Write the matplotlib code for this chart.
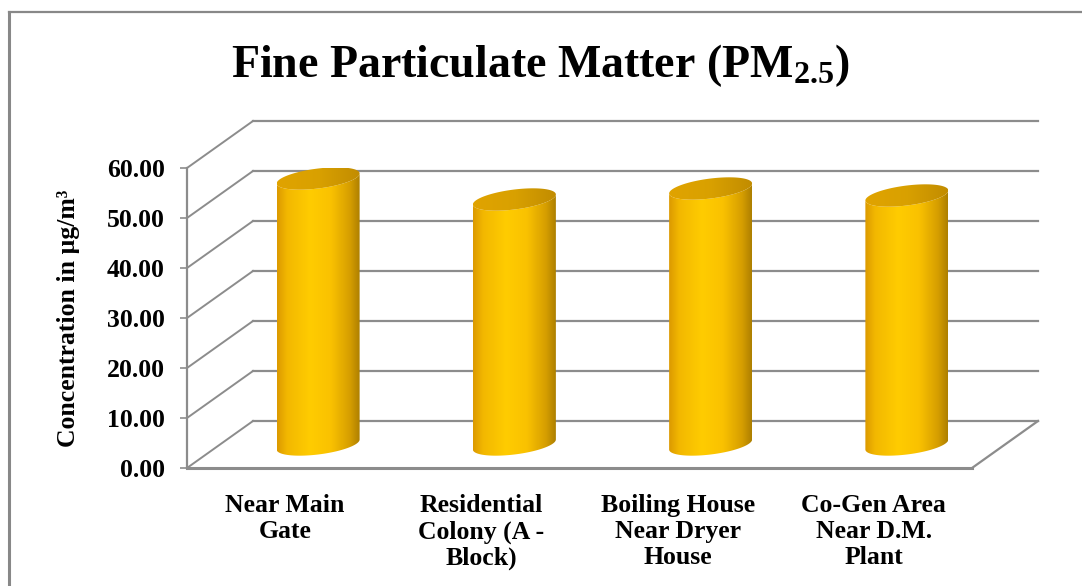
import numpy as np
import matplotlib
matplotlib.use("Agg")
import matplotlib.pyplot as plt
from matplotlib.patches import Polygon
from matplotlib.lines import Line2D
from matplotlib.colors import LinearSegmentedColormap

# ---- data ----
categories = ["Near Main\nGate", "Residential\nColony (A -\nBlock)",
              "Boiling House\nNear Dryer\nHouse", "Co-Gen Area\nNear D.M.\nPlant"]
values = [53.2, 49.0, 51.2, 49.8]
yticks = [0, 10, 20, 30, 40, 50, 60]
title = "Fine Particulate Matter (PM$_{\\mathrm{2.5}}$)"
ylabel = "Concentration in µg/m³"

plt.rcParams['font.family'] = ['Liberation Serif', 'DejaVu Serif']
plt.rcParams['font.weight'] = 'bold'
plt.rcParams['mathtext.fontset'] = 'custom'
plt.rcParams['mathtext.rm'] = 'Liberation Serif:bold'
plt.rcParams['mathtext.bf'] = 'Liberation Serif:bold'
plt.rcParams['mathtext.it'] = 'Liberation Serif:bold:italic'

W, H = 1082, 586
fig = plt.figure(figsize=(W / 100, H / 100), dpi=100)
fig.patch.set_facecolor('white')

# front plane of the 3D box in pixels
x0, x1 = 187, 972
yb, yt = 468, 168
ax = fig.add_axes([x0 / W, 1 - yb / H, (x1 - x0) / W, (yb - yt) / H])
ax.set_facecolor('none')
xmin, xmax = -0.5, len(categories) - 0.5
ymin, ymax = 0, 60
ax.set_xlim(xmin, xmax)
ax.set_ylim(ymin, ymax)

pxx = (x1 - x0) / (xmax - xmin)
pxy = (yb - yt) / (ymax - ymin)
dx = 66 / pxx       # depth offset in data units
dy = 47 / pxy

gcol = '#8c8c8c'
# gridlines: back wall + side wall
for v in yticks:
    ax.add_line(Line2D([xmin + dx, xmax + dx], [v + dy, v + dy], color=gcol, lw=1.6,
                       clip_on=False, zorder=1))
    ax.add_line(Line2D([xmin, xmin + dx], [v, v + dy], color=gcol, lw=1.4,
                       clip_on=False, zorder=1))
# floor
ax.add_line(Line2D([xmin, xmax], [0, 0], color=gcol, lw=2.2, clip_on=False, zorder=1))
ax.add_line(Line2D([xmax, xmax + dx], [0, dy], color=gcol, lw=1.6, clip_on=False, zorder=1))

# cylinders
A = 41.5 / pxx
B = 10 / pxy
C = 5 / pxy
body_cmap = LinearSegmentedColormap.from_list('body', [
    (0.0, (0.86, 0.60, 0.00)),
    (0.12, (0.95, 0.72, 0.00)),
    (0.40, (1.00, 0.80, 0.00)),
    (0.65, (0.98, 0.76, 0.00)),
    (0.88, (0.84, 0.62, 0.00)),
    (1.0, (0.68, 0.50, 0.00))])
cap_cmap = LinearSegmentedColormap.from_list('cap', [
    (0.0, (0.88, 0.64, 0.00)),
    (0.5, (0.85, 0.63, 0.00)),
    (1.0, (0.76, 0.55, 0.00))])

grad = np.linspace(0, 1, 256).reshape(1, -1)
for i, v in enumerate(values):
    xc = i + dx / 2
    base = dy / 2
    top = v + dy / 2
    t_front = np.linspace(np.pi, 2 * np.pi, 80)
    bx = xc + A * np.cos(t_front)
    by_off = B * np.sin(t_front) + C * np.cos(t_front)
    pts = np.vstack([np.column_stack([bx, base + by_off]),
                     np.column_stack([bx[::-1], top + by_off[::-1]])])
    body = Polygon(pts, closed=True, facecolor='none', edgecolor='none', zorder=3)
    ax.add_patch(body)
    im = ax.imshow(grad, cmap=body_cmap, extent=[xc - A, xc + A, base - B - C, top + B + C],
                   aspect='auto', zorder=3, interpolation='bilinear')
    im.set_clip_path(body)
    t = np.linspace(0, 2 * np.pi, 120)
    cap_pts = np.column_stack([xc + A * np.cos(t), top + B * np.sin(t) + C * np.cos(t)])
    cap = Polygon(cap_pts, closed=True, facecolor='none', edgecolor='none', zorder=4)
    ax.add_patch(cap)
    im2 = ax.imshow(grad, cmap=cap_cmap, extent=[xc - A, xc + A, top - B - C, top + B + C],
                    aspect='auto', zorder=4, interpolation='bilinear')
    im2.set_clip_path(cap)

ax.set_xlim(xmin, xmax)
ax.set_ylim(ymin, ymax)

# axes styling
for s in ['top', 'right', 'bottom']:
    ax.spines[s].set_visible(False)
ax.spines['left'].set_color(gcol)
ax.spines['left'].set_linewidth(1.6)
ax.set_yticks(yticks)
ax.set_yticklabels([f"{v:.2f}" for v in yticks], fontsize=18.5, fontweight='bold')
ax.tick_params(axis='y', length=5, width=1.2, color=gcol, pad=11)
ax.set_xticks(range(len(categories)))
ax.set_xticklabels(categories, fontsize=18.5, fontweight='bold', linespacing=1.15)
ax.tick_params(axis='x', length=0, pad=19)

fig.text(68 / W, 1 - 318 / H, ylabel, rotation=90, ha='center', va='center',
         fontsize=18.5, fontweight='bold')
fig.text(540 / W, 1 - 77 / H, title, ha='center', va='baseline', fontsize=33,
         fontweight='bold')

# outer frame (top and left edges)
fig.add_artist(Line2D([9 / W, 9 / W], [0, 1 - 12 / H], transform=fig.transFigure,
                      color='#888888', lw=2.2))
fig.add_artist(Line2D([9 / W, 1], [1 - 12 / H, 1 - 12 / H], transform=fig.transFigure,
                      color='#888888', lw=1.6))

fig.savefig('out.png', dpi=100)
